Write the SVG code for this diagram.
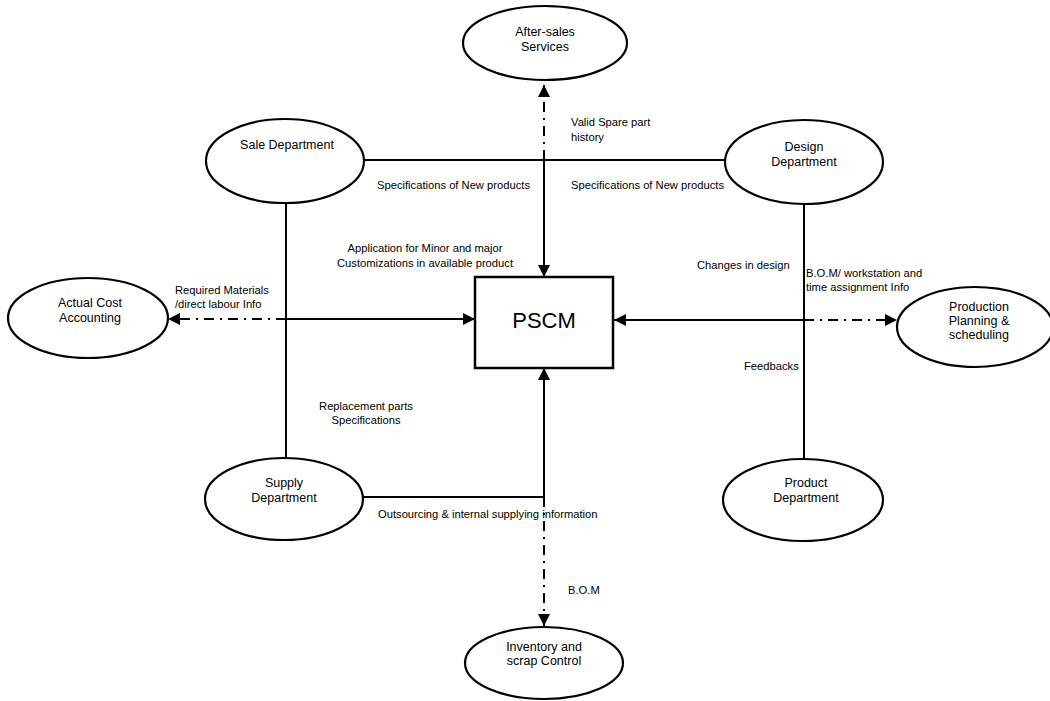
<svg xmlns="http://www.w3.org/2000/svg" width="1050" height="701" viewBox="0 0 1050 701">
<defs>
<style>
.node{fill:#fff;stroke:#000;stroke-width:2.2}
.nt{font-family:"Liberation Sans",Arial,sans-serif;font-size:12.5px;fill:#000;text-anchor:middle}
.lb{font-family:"Liberation Sans",Arial,sans-serif;font-size:11.2px;fill:#000}
.ln{stroke:#000;stroke-width:2;fill:none}
.dd{stroke:#000;stroke-width:2;fill:none;stroke-dasharray:10 6 2 6}
</style>
<marker id="ah" viewBox="0 0 12 12" refX="12" refY="6" markerWidth="12" markerHeight="12" markerUnits="userSpaceOnUse" orient="auto">
<path d="M0,0 L12,6 L0,12 Z" fill="#000"/>
</marker>
</defs>
<rect width="1050" height="701" fill="#fff"/>
<g id="connectors">
<path class="ln" d="M364,160 H725"/>
<path class="ln" d="M544,160 V277" marker-end="url(#ah)"/>
<path class="dd" d="M544,160 V85" marker-end="url(#ah)"/>
<path class="ln" d="M286,202 V458"/>
<path class="ln" d="M286,319 H475" marker-end="url(#ah)"/>
<path class="dd" d="M286,319 H168" marker-end="url(#ah)"/>
<path class="ln" d="M804,204 V459"/>
<path class="ln" d="M804,320 H614" marker-end="url(#ah)"/>
<path class="dd" d="M804,320 H897" marker-end="url(#ah)"/>
<path class="ln" d="M363,497 H544 V368" marker-end="url(#ah)"/>
<path class="dd" d="M544,497 V626" marker-end="url(#ah)"/>
</g>
<g id="labels">
<text class="lb" x="571" y="126">Valid Spare part</text>
<text class="lb" x="571" y="141">history</text>
<text class="lb" x="377" y="189">Specifications of New products</text>
<text class="lb" x="571" y="189">Specifications of New products</text>
<text class="lb" x="425" y="252" text-anchor="middle">Application for Minor and major</text>
<text class="lb" x="425" y="267" text-anchor="middle">Customizations in available product</text>
<text class="lb" x="175" y="294">Required Materials</text>
<text class="lb" x="175" y="308">/direct labour Info</text>
<text class="lb" x="697" y="269">Changes in design</text>
<text class="lb" x="806" y="277">B.O.M/ workstation and</text>
<text class="lb" x="806" y="291">time assignment Info</text>
<text class="lb" x="744" y="370">Feedbacks</text>
<text class="lb" x="366" y="410" text-anchor="middle">Replacement parts</text>
<text class="lb" x="366" y="424" text-anchor="middle">Specifications</text>
<text class="lb" x="378" y="518">Outsourcing &amp; internal supplying information</text>
<text class="lb" x="568" y="594">B.O.M</text>
</g>
<g id="PSCM">
<rect x="475" y="277" width="138" height="91" fill="#fff" stroke="#000" stroke-width="2.5"/>
<text x="544" y="328" font-family="'Liberation Sans',Arial,sans-serif" font-size="22" text-anchor="middle">PSCM</text>
</g>
<g id="after-sales">
<ellipse class="node" cx="545" cy="43" rx="82" ry="37"/>
<text class="nt" x="545" y="36">After-sales</text>
<text class="nt" x="545" y="51">Services</text>
</g>
<g id="sale">
<ellipse class="node" cx="285" cy="161" rx="79" ry="42"/>
<text class="nt" x="287" y="149">Sale Department</text>
</g>
<g id="design">
<ellipse class="node" cx="804" cy="162" rx="79" ry="42"/>
<text class="nt" x="804" y="151">Design</text>
<text class="nt" x="804" y="166">Department</text>
</g>
<g id="actual-cost">
<ellipse class="node" cx="88" cy="318" rx="80" ry="40"/>
<text class="nt" x="90" y="307">Actual Cost</text>
<text class="nt" x="90" y="322">Accounting</text>
</g>
<g id="production-planning">
<ellipse class="node" cx="975" cy="327" rx="78" ry="40"/>
<text class="nt" x="979" y="311">Production</text>
<text class="nt" x="979" y="325">Planning &amp;</text>
<text class="nt" x="979" y="339">scheduling</text>
</g>
<g id="supply">
<ellipse class="node" cx="284" cy="499" rx="79" ry="41"/>
<text class="nt" x="284" y="487">Supply</text>
<text class="nt" x="284" y="502">Department</text>
</g>
<g id="product">
<ellipse class="node" cx="803" cy="500" rx="80" ry="41"/>
<text class="nt" x="806" y="487">Product</text>
<text class="nt" x="806" y="502">Department</text>
</g>
<g id="inventory">
<ellipse class="node" cx="544" cy="663" rx="79" ry="36"/>
<text class="nt" x="544" y="651">Inventory and</text>
<text class="nt" x="544" y="665">scrap Control</text>
</g>
</svg>
